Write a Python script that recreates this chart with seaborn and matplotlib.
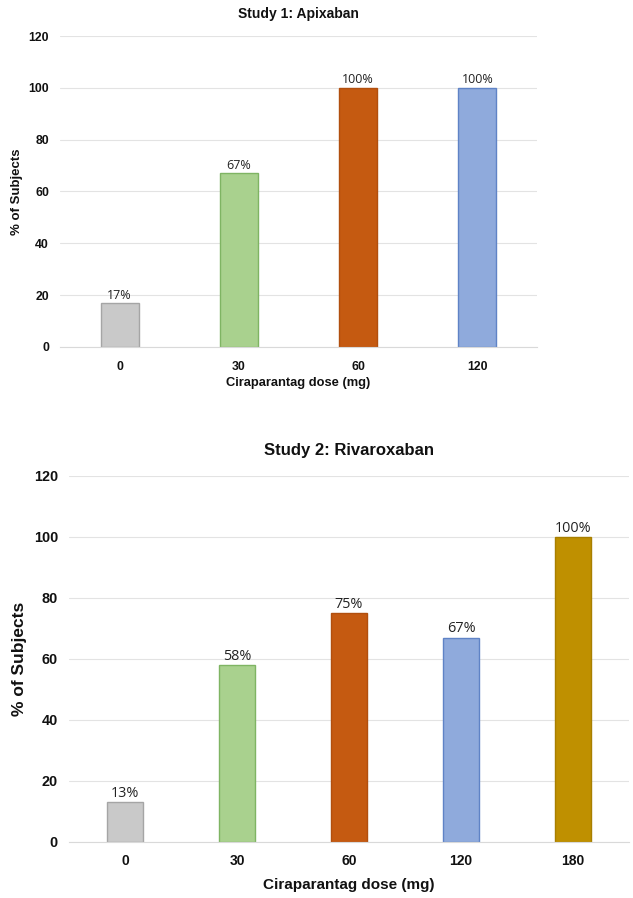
import matplotlib
matplotlib.use("Agg")
import matplotlib.pyplot as plt
import seaborn as sns
import pandas as pd

# Study 1: Apixaban
doses_1 = ["0", "30", "60", "120"]
pct_1 = [17, 67, 100, 100]
# Study 2: Rivaroxaban
doses_2 = ["0", "30", "60", "120", "180"]
pct_2 = [13, 58, 75, 67, 100]

yticks = [0, 20, 40, 60, 80, 100, 120]

fill_colors = ["#c9c9c9", "#a9d18e", "#c55a11", "#8faadc", "#bf9000"]
edge_colors = ["#a5a5a5", "#7fb463", "#b14f0e", "#5f83c6", "#a87f00"]

sns.set_style("white")
plt.rcParams['font.family'] = ['Liberation Sans', 'DejaVu Sans']
plt.rcParams['text.color'] = '#111111'
plt.rcParams['axes.labelcolor'] = '#111111'
plt.rcParams['xtick.color'] = '#111111'
plt.rcParams['ytick.color'] = '#111111'

fig = plt.figure(figsize=(6.33, 8.98), dpi=100)
ax1 = fig.add_axes([0.0948, 0.6136, 0.7536, 0.3463])
ax2 = fig.add_axes([0.109, 0.0624, 0.8847, 0.4076])


def draw(ax, doses, pct, title, xtick_fs, ytick_fs, xlab_fs, ylab_fs, title_fs, ann_fs,
         title_pad, xlab_pad, xtick_pad, ylab_pad):
    df = pd.DataFrame({"dose": doses, "pct": pct})
    sns.barplot(data=df, x="dose", y="pct", hue="dose", palette=fill_colors[:len(doses)],
                width=0.32, legend=False, ax=ax, linewidth=1, saturation=1)
    for patch, ec in zip(ax.patches, edge_colors):
        patch.set_edgecolor(ec)
    for i, v in enumerate(pct):
        ax.annotate(f"{v}%", (i, v), xytext=(0, 1), textcoords="offset points",
                    ha="center", va="bottom", fontsize=ann_fs, color="#222222",
                    family=["Open Sans", "DejaVu Sans"])
    ax.set_ylim(0, 120)
    ax.set_xlim(-0.5, len(doses) - 0.5)
    ax.set_yticks(yticks)
    ax.set_yticklabels([str(t) for t in yticks], fontsize=ytick_fs, fontweight="bold")
    ax.set_xticks(range(len(doses)))
    ax.set_xticklabels(doses, fontsize=xtick_fs, fontweight="bold")
    ax.yaxis.grid(True, color="#e3e3e3", linewidth=0.8)
    ax.set_axisbelow(True)
    for s in ["top", "right", "left"]:
        ax.spines[s].set_visible(False)
    ax.spines["bottom"].set_color("#d9d9d9")
    ax.tick_params(axis="y", length=0, pad=8)
    ax.tick_params(axis="x", length=0, pad=xtick_pad)
    ax.set_xlabel("Ciraparantag dose (mg)", fontsize=xlab_fs, fontweight="bold", labelpad=xlab_pad)
    ax.set_ylabel("% of Subjects", fontsize=ylab_fs, fontweight="bold", labelpad=ylab_pad)
    ax.set_title(title, fontsize=title_fs, fontweight="bold", pad=title_pad)


draw(ax1, doses_1, pct_1, "Study 1: Apixaban", 8.8, 8.8, 9.3, 9.5, 10, 9, 13, 3, 10, 4)
draw(ax2, doses_2, pct_2, "Study 2: Rivaroxaban", 10, 10.4, 11, 12.5, 12, 10.4, 15, 7, 9, 5)

fig.savefig("out.png", dpi=100)
